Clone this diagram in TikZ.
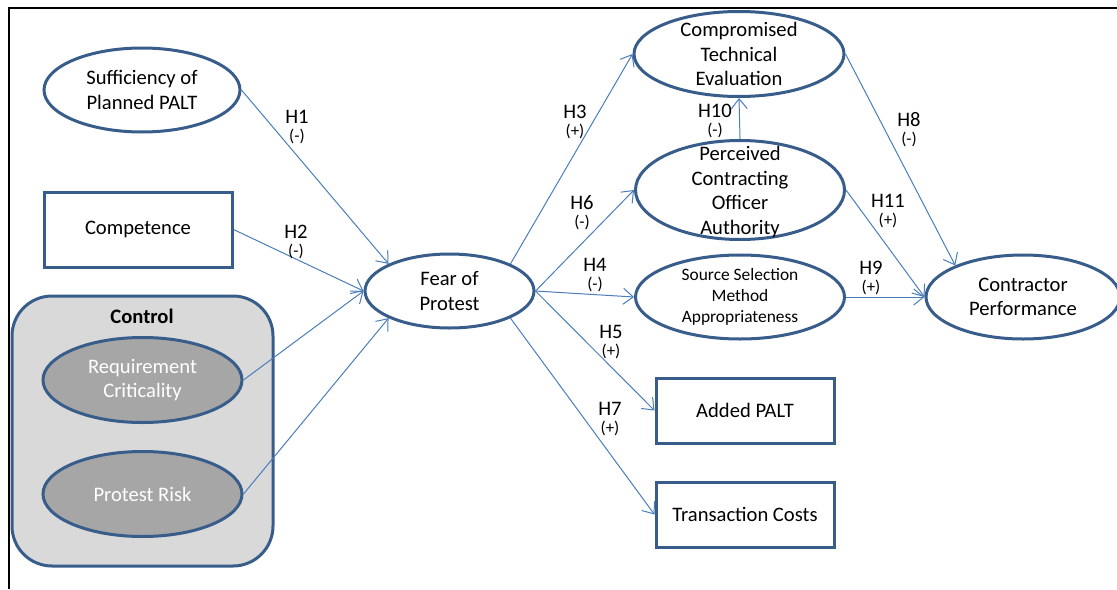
\documentclass[tikz,border=0pt]{standalone}
\usepackage{fontspec}
\setmainfont{Carlito}
\usepackage{tikz}
\usetikzlibrary{shapes.geometric}
\usetikzlibrary{arrows.meta}
\definecolor{ovalblue}{HTML}{385D8A}
\definecolor{linkblue}{HTML}{4A7EBB}
\definecolor{ctrlgray}{HTML}{D9D9D9}
\definecolor{ovalgray}{HTML}{A6A6A6}
\tikzset{
  oval/.style={ellipse, draw=ovalblue, line width=1.5pt, fill=white, inner sep=0pt, align=center},
  box/.style={rectangle, draw=ovalblue, line width=1.5pt, fill=white, align=center},
  link/.style={draw=linkblue, line width=0.5pt, -{Straight Barb[length=5pt,width=8pt]}},
  hyp/.style={align=center, inner sep=0pt, font=\fontsize{10.3}{9}\selectfont},
  every node/.append style={font=\fontsize{10.3}{12.2}\selectfont}
}

\begin{document}
\begin{tikzpicture}[x=0.5pt, y=-0.5pt]
                \useasboundingbox (0,0) rectangle (1117,589);
                % Frame
                \draw[line width=1pt] (9,589) -- (9,8) -- (1117,8);

                % Control group
                \node[box, rounded corners=20pt, fill=ctrlgray, minimum width=130.5pt, minimum height=135pt] (control) at (142.5,431) {};
                \node[font=\fontsize{10.3}{12.2}\selectfont\bfseries] (control-t) at (142,316) {Control};
                \node[oval, fill=ovalgray, text=white, minimum width=99.5pt, minimum height=42.5pt] (req) at (142.5,380) {Requirement\\Criticality};
                \node[oval, fill=ovalgray, text=white, minimum width=99.5pt, minimum height=42.5pt] (risk) at (142.5,494) {Protest Risk};

                % Antecedents
                \node[oval, minimum width=98pt, minimum height=42pt] (suff) at (142,90) {Sufficiency of\\Planned PALT};
                \node[box, minimum width=94pt, minimum height=37.5pt] (comp) at (138,229.5) {Competence};
                \node[oval, minimum width=84.5pt, minimum height=37pt] (fear) at (449.5,291) {Fear of\\Protest};

                % Outcomes
                \node[oval, minimum width=105pt, minimum height=42.5pt] (ctech) at (739,54) {};
                \node[align=center] (ctech-t) at (ctech) {Compromised\\Technical\\Evaluation};
                \node[oval, minimum width=104.5pt, minimum height=49.5pt] (pcoa) at (740,190) {};
                \node[align=center] (pcoa-t) at (740,192) {Perceived\\Contracting\\Officer\\Authority};
                \node[oval, minimum width=104.5pt, minimum height=42pt, font=\fontsize{8.7}{10.5}\selectfont] (ssma) at (740,297) {Source Selection\\Method\\Appropriateness};
                \node[box, minimum width=89pt, minimum height=32.5pt] (added) at (745,410.5) {Added PALT};
                \node[box, minimum width=89pt, minimum height=32.5pt] (trans) at (745,514.5) {Transaction Costs};
                \node[oval, minimum width=97pt, minimum height=42pt] (cperf) at (1023,297) {Contractor\\Performance};

                % Paths
                \draw[link] (suff.east) -- (fear.156);
                \draw[link] (comp.east) -- (fear.west);
                \draw[link] (req.east) -- (fear.west);
                \draw[link] (risk.east) -- (fear.204);
                \draw[link] (fear.24) -- (ctech.west);
                \draw[link] (fear.east) -- (pcoa.west);
                \draw[link] (fear.east) -- (ssma.west);
                \draw[link] (fear.east) -- (added.west);
                \draw[link] (fear.336) -- (trans.west);
                \draw[link] (pcoa.north) -- (ctech.south);
                \draw[link] (ctech.east) -- (cperf.155);
                \draw[link] (pcoa.east) -- (cperf.west);
                \draw[link] (ssma.east) -- (cperf.west);

                % Hypotheses
                \node[hyp] (h1) at (297,127.5) {H1\\{\fontsize{8.5}{9}\selectfont(-)}};
                \node[hyp] (h2) at (296,242) {H2\\{\fontsize{8.5}{9}\selectfont(-)}};
                \node[hyp] (h3) at (575,121.5) {H3\\{\fontsize{8.5}{9}\selectfont(+)}};
                \node[hyp] (h10) at (715,120.5) {H10\\{\fontsize{8.5}{9}\selectfont(-)}};
                \node[hyp] (h8) at (909,130) {H8\\{\fontsize{8.5}{9}\selectfont(-)}};
                \node[hyp] (h6) at (582,212.5) {H6\\{\fontsize{8.5}{9}\selectfont(-)}};
                \node[hyp] (h11) at (888,211) {H11\\{\fontsize{8.5}{9}\selectfont(+)}};
                \node[hyp] (h4) at (595,275.5) {H4\\{\fontsize{8.5}{9}\selectfont(-)}};
                \node[hyp] (h9) at (871,278) {H9\\{\fontsize{8.5}{9}\selectfont(+)}};
                \node[hyp] (h5) at (611,342) {H5\\{\fontsize{8.5}{9}\selectfont(+)}};
                \node[hyp] (h7) at (610,419.5) {H7\\{\fontsize{8.5}{9}\selectfont(+)}};
            \end{tikzpicture}
\end{document}
